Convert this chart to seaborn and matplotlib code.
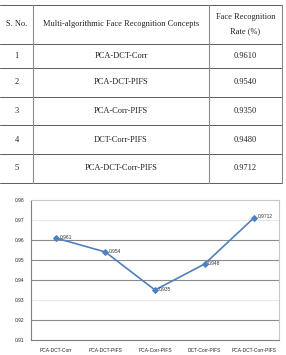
import numpy as np
import pandas as pd
import matplotlib
matplotlib.use("Agg")
import matplotlib.pyplot as plt
import seaborn as sns

# table + chart data
serial_no = ["1", "2", "3", "4", "5"]
concepts = ["PCA-DCT-Corr", "PCA-DCT-PIFS", "PCA-Corr-PIFS", "DCT-Corr-PIFS", "PCA-DCT-Corr-PIFS"]
rates = [0.9610, 0.9540, 0.9350, 0.9480, 0.9712]
table_rates = ["0.9610", "0.9540", "0.9350", "0.9480", "0.9712"]
point_labels = ["0.961", "0.954", "0.935", "0.948", "0.9712"]
header = ["S. No.", "Multi-algorithmic Face Recognition Concepts", "Face Recognition\nRate (%)"]
y_ticks = [0.91, 0.92, 0.93, 0.94, 0.95, 0.96, 0.97, 0.98]

sns.set_style("white")
W, H = 286, 355
fig = plt.figure(figsize=(W / 100, H / 100), dpi=100)

# ---- table (drawn in pixel coordinates) ----
tab = fig.add_axes([0, 0, 1, 1])
tab.set_xlim(0, W)
tab.set_ylim(H, 0)
tab.axis("off")

row_lines = [5, 44, 68, 97, 125, 154, 183]
col_lines = [0.5, 33, 209, 282]
line_col = "#5a5a5a"
for y in row_lines:
    tab.plot([0, 282], [y, y], color=line_col, lw=0.7)
for x in col_lines[1:]:
    tab.plot([x, x], [5, 183], color="#8a8a8a", lw=0.8)

col_centers = [(col_lines[i] + col_lines[i + 1]) / 2 for i in range(3)]
serif = "Liberation Serif"
tab.text(col_centers[0], 24, header[0], ha="center", va="center", fontsize=6, family=serif, color="#222")
tab.text(col_centers[1], 24, header[1], ha="center", va="center", fontsize=6, family=serif, color="#222")
tab.text(col_centers[2], 24, header[2], ha="center", va="center", fontsize=6, family=serif,
         color="#222", linespacing=2.0)
for i in range(5):
    yc = (row_lines[i + 1] + row_lines[i + 2]) / 2
    tab.text(col_centers[0], yc, serial_no[i], ha="center", va="center", fontsize=6, family=serif, color="#222")
    tab.text(col_centers[1], yc, concepts[i], ha="center", va="center", fontsize=6, family=serif, color="#222")
    tab.text(col_centers[2], yc, table_rates[i], ha="center", va="center", fontsize=6, family=serif, color="#222")

# ---- line chart ----
ax = fig.add_axes([31 / W, 15 / H, 248 / W, 140 / H])
df = pd.DataFrame({"concept": concepts, "rate": rates})
sns.lineplot(data=df, x="concept", y="rate", sort=False, ax=ax, color="#4f81bd",
             marker="D", markersize=3, markeredgecolor="#4f81bd", linewidth=1.2)
ax.set_xlim(-0.5, 4.5)
ax.set_ylim(0.91, 0.98)
ax.set_yticks(y_ticks)
ax.set_yticklabels([f"{v:.2f}" for v in y_ticks], fontsize=3.5, family="Liberation Sans")
ax.set_xticks(range(len(concepts)))
ax.set_xticklabels(concepts, fontsize=3.5, family="Liberation Sans")
ax.set_xlabel("")
ax.set_ylabel("")
ax.tick_params(axis="y", length=2, width=0.6, color="#808080", pad=3)
ax.tick_params(axis="x", length=0, pad=6)

for v in y_ticks[1:-1]:
    faint = v in (0.97, 0.93)
    ax.axhline(v, color="#e6e6e6" if faint else "#8c8c8c", lw=0.8, zorder=0)

for s in ["top", "right"]:
    ax.spines[s].set_color("#c8c8c8")
    ax.spines[s].set_linewidth(0.8)
for s in ["left", "bottom"]:
    ax.spines[s].set_color("#808080")
    ax.spines[s].set_linewidth(0.8)

for i, (v, lab) in enumerate(zip(rates, point_labels)):
    ax.annotate(lab, (i, v), xytext=(2.5, 0.5), textcoords="offset points",
                fontsize=3.5, family="Liberation Sans", va="center", ha="left", color="#333")

fig.savefig("out.png", dpi=100)
